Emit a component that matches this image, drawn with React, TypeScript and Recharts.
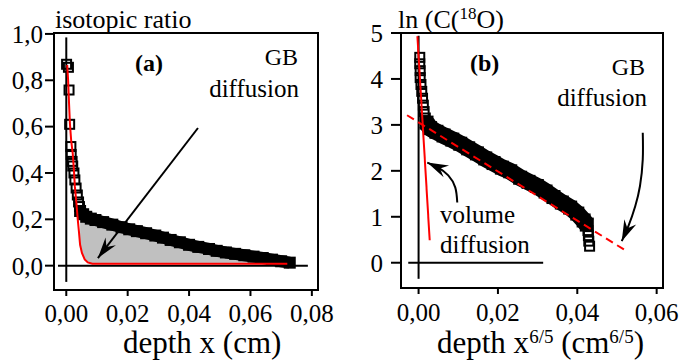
import React from 'react';
import {
  ComposedChart,
  XAxis,
  YAxis,
  Line,
  Area,
  Scatter,
  ReferenceLine,
  ReferenceArea,
} from 'recharts';

const FONT = '"Liberation Serif", "Times New Roman", serif';

// ---------- Panel (a): isotopic ratio vs depth x (cm) ----------
const aXTicks = [0, 0.02, 0.04, 0.06, 0.08];
const aYTicks = [0, 0.2, 0.4, 0.6, 0.8, 1.0];
const aXDomain: [number, number] = [-0.004, 0.082];
const aYDomain: [number, number] = [-0.105, 1.004];

// isolated measured points near the surface
const aSparse: [number, number][] = [
  [0.0001, 0.869], [0.0007, 0.856], [0.0009, 0.758], [0.0011, 0.61],
  [0.0015, 0.514], [0.0016, 0.48], [0.0019, 0.45], [0.0021, 0.43],
  [0.0025, 0.40], [0.0028, 0.37], [0.0032, 0.335], [0.0036, 0.305],
  [0.004, 0.275], [0.0043, 0.255],
];
// dense measured points (grain-boundary tail)
const aBand: [number, number][] = [
  [0.0045, 0.236], [0.0055, 0.222], [0.0065, 0.211], [0.008, 0.203],
  [0.0095, 0.197], [0.012, 0.188], [0.015, 0.177], [0.018, 0.166],
  [0.0205, 0.157], [0.023, 0.149], [0.026, 0.14], [0.029, 0.13],
  [0.0315, 0.121], [0.034, 0.111], [0.037, 0.101], [0.04, 0.09],
  [0.043, 0.081], [0.0465, 0.072], [0.049, 0.064], [0.052, 0.057],
  [0.055, 0.051], [0.058, 0.045], [0.061, 0.039], [0.064, 0.033],
  [0.067, 0.026], [0.07, 0.019], [0.0728, 0.013],
];
// volume diffusion fit (red)
const aVolume: [number, number][] = [
  [0.0003, 0.866], [0.0006, 0.8], [0.0009, 0.7], [0.0012, 0.61],
  [0.0016, 0.54], [0.0021, 0.485], [0.0025, 0.41], [0.0028, 0.341],
  [0.0033, 0.27], [0.0037, 0.205], [0.0041, 0.15], [0.0045, 0.09],
  [0.0051, 0.055], [0.006, 0.027], [0.007, 0.014], [0.0085, 0.008],
  [0.072, 0.008],
];
const aArrow: [number, number][] = [[0.0429, 0.594], [0.0103, 0.033]];
const aZeroV: [number, number][] = [[0, 0.985], [0, -0.07]];
const aZeroH: [number, number][] = [[-0.0027, 0], [0.0787, 0]];

// ---------- Panel (b): ln C(18O) vs depth x^(6/5) ----------
const bXTicks = [0, 0.02, 0.04, 0.06];
const bYTicks = [0, 1, 2, 3, 4, 5];
const bXDomain: [number, number] = [-0.00443, 0.0616];
const bYDomain: [number, number] = [-0.55, 5.0];

const bColumn: [number, number][] = [
  [0.0003, 4.47], [0.0003, 4.33], [0.0004, 4.18], [0.0004, 4.03],
  [0.0006, 3.88], [0.0008, 3.73], [0.001, 3.58], [0.0012, 3.43],
  [0.0014, 3.29], [0.0017, 3.15],
];
const bBand: [number, number][] = [
  [0.002, 3.05], [0.0029, 2.93], [0.0045, 2.85], [0.0063, 2.77],
  [0.0085, 2.68], [0.0105, 2.59], [0.0125, 2.49], [0.0147, 2.38],
  [0.0168, 2.27], [0.0189, 2.17], [0.021, 2.07], [0.0231, 1.99],
  [0.0256, 1.85], [0.0277, 1.76], [0.0298, 1.67], [0.032, 1.55],
  [0.034, 1.43], [0.0361, 1.31], [0.0382, 1.2], [0.04, 1.07],
  [0.0416, 0.92], [0.0424, 0.83],
];
const bTail: [number, number][] = [
  [0.0427, 0.7], [0.0428, 0.59], [0.0429, 0.47], [0.0431, 0.36],
];
const bVolumeFit: [number, number][] = [[-0.0003, 4.93], [0.0028, 0.49]];
const bGBFit: [number, number][] = [[-0.0029, 3.21], [0.0521, 0.27]];
const bVolArrow: [number, number][] = [
  [0.00975, 1.31], [0.00924, 1.64], [0.00748, 1.9], [0.00496, 2.07], [0.00219, 2.18],
];
const bGBArrow: [number, number][] = [
  [0.0565, 2.83], [0.0565, 2.25], [0.0558, 1.67], [0.0546, 1.23], [0.0529, 0.8], [0.0512, 0.47],
];
const bZeroV: [number, number][] = [[0, 4.94], [0, -0.35]];
const bZeroH: [number, number][] = [[-0.0026, 0], [0.0314, 0]];

// ---------- helpers ----------
const pts = (arr: [number, number][]) => arr.map(([x, y]) => ({ x, y }));
const fmtComma = (d: number) => (v: number) => v.toFixed(d).replace('.', ',');

const Square = (props: any) => {
  const { cx, cy } = props;
  if (cx == null || cy == null) return <g />;
  return (
    <rect x={cx - 4.5} y={cy - 4.5} width={9} height={9} fill="none" stroke="#000" strokeWidth={2} />
  );
};
const makeFilledSquare = (size: number) => (props: any) => {
  const { cx, cy } = props;
  if (cx == null || cy == null) return <g />;
  return <rect x={cx - size / 2} y={cy - size / 2} width={size} height={size} fill="#000" />;
};
const NoMarker = () => <g />;

const headPoints = (x1: number, y1: number, x2: number, y2: number) => {
  const L = 21;
  const W = 6.5;
  const N = 14;
  const a = Math.atan2(y2 - y1, x2 - x1);
  const c = Math.cos(a);
  const s = Math.sin(a);
  const p = (u: number, v: number) => `${x2 + u * c - v * s},${y2 + u * s + v * c}`;
  return [p(0, 0), p(-L, -W), p(-N, 0), p(-L, W)].join(' ');
};

const ArrowWithLine = (props: any) => {
  const { x1, y1, x2, y2 } = props;
  return (
    <g>
      <line x1={x1} y1={y1} x2={x2} y2={y2} stroke="#000" strokeWidth={2} />
      <polygon points={headPoints(x1, y1, x2, y2)} fill="#000" />
    </g>
  );
};

const ArrowHeadOnly = (props: any) => {
  const { x1, y1, x2, y2 } = props;
  return <polygon points={headPoints(x1, y1, x2, y2)} fill="#000" />;
};

const makeXTick = (fmt: (v: number) => string) => (props: any) => {
  const { x, y, payload } = props;
  return (
    <text x={x} y={y} dy="0.71em" textAnchor="middle" fontFamily={FONT} fontSize={25} fill="#000">
      {fmt(payload.value)}
    </text>
  );
};
const makeYTick = (fmt: (v: number) => string) => (props: any) => {
  const { x, y, payload } = props;
  return (
    <text x={x} y={y} dy="0.355em" textAnchor="end" fontFamily={FONT} fontSize={25} fill="#000">
      {fmt(payload.value)}
    </text>
  );
};

const tickLineStyle = { stroke: '#000', strokeWidth: 2 };

function PanelA() {
  return (
    <ComposedChart width={340} height={361} margin={{ top: 33, right: 22, bottom: 11, left: 0 }}>
      <XAxis
        type="number" dataKey="x" domain={aXDomain} allowDataOverflow ticks={aXTicks} interval={0}
        axisLine={false} tickLine={tickLineStyle} tickSize={6}
        tickMargin={8} tick={makeXTick(fmtComma(2))} height={60}
      />
      <YAxis
        type="number" dataKey="y" domain={aYDomain} allowDataOverflow ticks={aYTicks} interval={0}
        axisLine={false} tickLine={tickLineStyle} tickSize={9}
        tickMargin={2} tick={makeYTick(fmtComma(1))} width={54}
      />
      <ReferenceArea
        x1={aXDomain[0]} x2={aXDomain[1]} y1={aYDomain[0]} y2={aYDomain[1]}
        fill="#fff" fillOpacity={0} stroke="#000" strokeWidth={2} ifOverflow="visible"
      />
      <Area data={pts(aBand)} dataKey="y" type="linear" fill="#c0c0c0" fillOpacity={1} stroke="none" baseValue={0} isAnimationActive={false} />
      <Area data={pts(aVolume)} dataKey="y" type="linear" fill="#fff" fillOpacity={1} stroke="none" baseValue={0} isAnimationActive={false} />
      <ReferenceLine segment={pts(aZeroV)} stroke="#000" strokeWidth={2} ifOverflow="visible" />
      <ReferenceLine segment={pts(aZeroH)} stroke="#000" strokeWidth={2} ifOverflow="visible" />
      <Line data={pts(aBand)} dataKey="y" type="linear" stroke="#000" strokeWidth={12} strokeLinejoin="round" dot={false} isAnimationActive={false} />
      <Scatter data={pts(aSparse)} shape={Square} isAnimationActive={false} />
      <Scatter data={pts(aBand)} shape={makeFilledSquare(12)} isAnimationActive={false} />
      <Scatter
        data={pts(aVolume)} shape={NoMarker} fill="none" lineType="joint"
        line={{ stroke: '#f00', strokeWidth: 2 }} isAnimationActive={false}
      />
      <ReferenceLine segment={pts(aArrow)} shape={ArrowWithLine} ifOverflow="visible" />
    </ComposedChart>
  );
}

function PanelB() {
  const volA = bVolArrow.slice(-2);
  const gbA = bGBArrow.slice(-2);
  return (
    <ComposedChart width={342} height={361} margin={{ top: 33, right: 19, bottom: 13, left: 0 }}>
      <XAxis
        type="number" dataKey="x" domain={bXDomain} allowDataOverflow ticks={bXTicks} interval={0}
        axisLine={false} tickLine={tickLineStyle} tickSize={6}
        tickMargin={9} tick={makeXTick(fmtComma(2))} height={60}
      />
      <YAxis
        type="number" dataKey="y" domain={bYDomain} allowDataOverflow ticks={bYTicks} interval={0}
        axisLine={false} tickLine={tickLineStyle} tickSize={10}
        tickMargin={8} tick={makeYTick((v: number) => String(v))} width={61}
      />
      <ReferenceArea
        x1={bXDomain[0]} x2={bXDomain[1]} y1={bYDomain[0]} y2={bYDomain[1]}
        fill="#fff" fillOpacity={0} stroke="#000" strokeWidth={2} ifOverflow="visible"
      />
      <ReferenceLine segment={pts(bZeroV)} stroke="#000" strokeWidth={2} ifOverflow="visible" />
      <ReferenceLine segment={pts(bZeroH)} stroke="#000" strokeWidth={2} ifOverflow="visible" />
      <Line data={pts(bBand)} dataKey="y" type="linear" stroke="#000" strokeWidth={17} strokeLinejoin="round" dot={false} isAnimationActive={false} />
      <Line data={pts(bVolArrow)} dataKey="y" type="natural" stroke="#000" strokeWidth={2} dot={false} isAnimationActive={false} />
      <Line data={pts(bGBArrow)} dataKey="y" type="natural" stroke="#000" strokeWidth={2} dot={false} isAnimationActive={false} />
      <Scatter data={pts(bColumn)} shape={Square} isAnimationActive={false} />
      <Scatter data={pts(bTail)} shape={Square} isAnimationActive={false} />
      <Scatter data={pts(bBand)} shape={makeFilledSquare(14)} isAnimationActive={false} />
      <Scatter
        data={pts(bGBFit)} shape={NoMarker} fill="none" lineType="joint"
        line={{ stroke: '#f00', strokeWidth: 2, strokeDasharray: '8 5' }} isAnimationActive={false}
      />
      <Scatter
        data={pts(bVolumeFit)} shape={NoMarker} fill="none" lineType="joint"
        line={{ stroke: '#f00', strokeWidth: 2 }} isAnimationActive={false}
      />
      <ReferenceLine segment={pts(volA)} shape={ArrowHeadOnly} ifOverflow="visible" />
      <ReferenceLine segment={pts(gbA)} shape={ArrowHeadOnly} ifOverflow="visible" />
    </ComposedChart>
  );
}

function Annotations() {
  const t = { fontFamily: FONT, fill: '#000' } as const;
  return (
    <svg width={682} height={361} style={{ position: 'absolute', left: 0, top: 0, pointerEvents: 'none' }}>
      {/* panel (a) */}
      <text x={55} y={28} fontSize={26} {...t}>isotopic ratio</text>
      <text x={135} y={71} fontSize={24} fontWeight="bold" {...t}>(a)</text>
      <text x={298} y={65} fontSize={24} textAnchor="end" {...t}>GB</text>
      <text x={299} y={97} fontSize={25} textAnchor="end" {...t}>diffusion</text>
      <text x={123} y={353} fontSize={31} {...t}>depth x (cm)</text>
      {/* panel (b) */}
      <text x={398} y={28} fontSize={26} {...t}>
        ln (C(<tspan dy={-9} fontSize={17}>18</tspan><tspan dy={9}>O)</tspan>
      </text>
      <text x={470} y={71} fontSize={24} fontWeight="bold" {...t}>(b)</text>
      <text x={645} y={75} fontSize={24} textAnchor="end" {...t}>GB</text>
      <text x={647} y={106} fontSize={25} textAnchor="end" {...t}>diffusion</text>
      <text x={440} y={223} fontSize={25} {...t}>volume</text>
      <text x={440} y={253} fontSize={25} {...t}>diffusion</text>
      <text x={437} y={353} fontSize={31} {...t}>
        depth x<tspan dy={-10} fontSize={19}>6/5</tspan>
        <tspan dy={10}> (cm</tspan>
        <tspan dy={-10} fontSize={19}>6/5</tspan>
        <tspan dy={10}>)</tspan>
      </text>
    </svg>
  );
}

export default function App() {
  return (
    <div style={{ position: 'absolute', left: 0, top: 0, width: 682, height: 361, background: '#fff' }}>
      <div style={{ position: 'absolute', left: 0, top: 0 }}>
        <PanelA />
      </div>
      <div style={{ position: 'absolute', left: 340, top: 0 }}>
        <PanelB />
      </div>
      <Annotations />
    </div>
  );
}
